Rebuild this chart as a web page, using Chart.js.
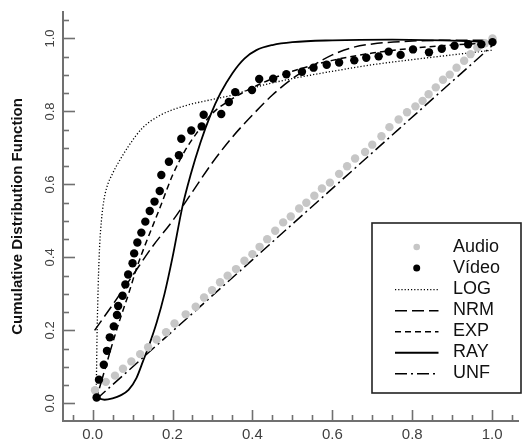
<!DOCTYPE html>
<html>
<head>
<meta charset="utf-8">
<script src="https://cdn.jsdelivr.net/npm/chart.js@4/dist/chart.umd.min.js"></script>
<style>
  html, body { margin: 0; padding: 0; background: #ffffff; }
  #c { display: block; }
</style>
</head>
<body>
<canvas id="c" width="523" height="445"></canvas>
<script>
// ---------- data ----------
const audioX = [0.006,0.033,0.056,0.076,0.097,0.119,0.139,0.160,0.184,0.205,0.233,0.258,0.279,0.299,0.319,0.338,0.359,0.380,0.400,0.418,0.437,0.457,0.477,0.496,0.517,0.535,0.555,0.574,0.594,0.617,0.637,0.657,0.682,0.700,0.723,0.743,0.766,0.787,0.808,0.826,0.841,0.859,0.877,0.894,0.911,0.930,0.946,0.963,0.982,1.001];
const audioY = [0.036,0.059,0.076,0.095,0.115,0.135,0.154,0.175,0.195,0.219,0.244,0.265,0.290,0.310,0.332,0.350,0.368,0.391,0.409,0.429,0.450,0.473,0.496,0.512,0.534,0.550,0.569,0.589,0.605,0.629,0.650,0.671,0.689,0.709,0.732,0.757,0.778,0.798,0.814,0.829,0.847,0.866,0.887,0.901,0.920,0.939,0.957,0.975,0.987,1.000];

const videoX = [0.010,0.016,0.028,0.036,0.043,0.053,0.061,0.064,0.075,0.082,0.089,0.100,0.104,0.112,0.122,0.132,0.143,0.155,0.168,0.172,0.191,0.216,0.222,0.247,0.273,0.278,0.322,0.341,0.357,0.399,0.417,0.452,0.485,0.524,0.553,0.586,0.617,0.655,0.685,0.716,0.741,0.771,0.802,0.842,0.874,0.906,0.940,0.973,1.001];
const videoY = [0.016,0.065,0.106,0.144,0.181,0.211,0.242,0.267,0.295,0.326,0.353,0.384,0.411,0.441,0.468,0.498,0.527,0.553,0.582,0.626,0.662,0.680,0.725,0.748,0.759,0.791,0.793,0.826,0.853,0.859,0.889,0.890,0.902,0.909,0.920,0.928,0.934,0.940,0.947,0.951,0.964,0.955,0.970,0.962,0.972,0.980,0.984,0.984,0.990];

const logX = [0.007,0.009,0.010,0.011,0.013,0.015,0.018,0.022,0.028,0.035,0.050,0.070,0.090,0.125,0.170,0.230,0.300,0.350,0.420,0.500,0.600,0.700,0.800,0.900,1.000];
const logY = [0.025,0.040,0.100,0.180,0.280,0.360,0.440,0.500,0.555,0.590,0.630,0.670,0.705,0.755,0.790,0.815,0.833,0.845,0.870,0.890,0.910,0.928,0.942,0.955,0.968];

const nrmX = [0.005,0.050,0.100,0.150,0.200,0.250,0.300,0.350,0.400,0.450,0.500,0.550,0.600,0.650,0.700,0.800,0.900,1.000];
const nrmY = [0.200,0.270,0.350,0.430,0.500,0.580,0.660,0.730,0.790,0.845,0.890,0.925,0.955,0.975,0.985,0.993,0.995,0.995];

const expX = [0.010,0.030,0.050,0.070,0.090,0.110,0.130,0.150,0.170,0.200,0.230,0.260,0.300,0.350,0.400,0.450,0.500,0.600,0.700,0.800,0.900,1.000];
const expY = [0.015,0.090,0.165,0.235,0.300,0.370,0.430,0.485,0.540,0.625,0.690,0.740,0.795,0.835,0.865,0.890,0.910,0.940,0.960,0.973,0.982,0.988];

const rayX = [0.010,0.030,0.050,0.070,0.090,0.110,0.126,0.140,0.160,0.180,0.200,0.225,0.245,0.270,0.295,0.320,0.350,0.380,0.410,0.450,0.500,0.600,0.750,0.900,1.000];
const rayY = [0.015,0.010,0.014,0.022,0.037,0.070,0.115,0.155,0.220,0.300,0.400,0.540,0.625,0.715,0.790,0.850,0.905,0.945,0.968,0.982,0.990,0.995,0.997,0.994,0.990];

const unfX = [0.010,1.000];
const unfY = [0.012,0.980];

const seriesLabels = ['Audio','Vídeo','LOG','NRM','EXP','RAY','UNF'];
const yTickLabels = [0.0,0.2,0.4,0.6,0.8,1.0];
const xTickLabels = [0.0,0.2,0.4,0.6,0.8,1.0];
const minorTicks = [-0.05,0.05,0.1,0.15,0.25,0.3,0.35,0.45,0.5,0.55,0.65,0.7,0.75,0.85,0.9,0.95,1.05];
const yAxisTitle = 'Cumulative Distribution Function';

// ---------- build ----------
const pts = (xs, ys) => xs.map((x, i) => ({x: x, y: ys[i]}));
const AXIS = '#707070';
const FONT = "'Liberation Sans', Arial, sans-serif";

const lineDs = (label, xs, ys, dash, width, order) => ({
  label, data: pts(xs, ys), showLine: true, pointRadius: 0, borderColor: '#000',
  backgroundColor: '#000', borderWidth: width, borderDash: dash,
  cubicInterpolationMode: 'monotone', fill: false, order
});

const datasets = [
  { label: seriesLabels[0], data: pts(audioX, audioY), pointRadius: 4.2, pointBackgroundColor: '#c6c6c6',
    pointBorderWidth: 0, borderColor: '#c6c6c6', backgroundColor: '#c6c6c6', showLine: false, order: 1, legendRadius: 3.3 },
  { label: seriesLabels[1], data: pts(videoX, videoY), pointRadius: 4.2, pointBackgroundColor: '#000',
    pointBorderWidth: 0, borderColor: '#000', backgroundColor: '#000', showLine: false, order: 0, legendRadius: 3.5 },
  lineDs(seriesLabels[2], logX, logY, [1.2, 2], 1.3, 2),
  lineDs(seriesLabels[3], nrmX, nrmY, [12, 5], 1.5, 3),
  lineDs(seriesLabels[4], expX, expY, [6, 4], 1.5, 4),
  lineDs(seriesLabels[5], rayX, rayY, [], 1.8, 5),
  lineDs(seriesLabels[6], unfX, unfY, [12, 4, 2, 4], 1.5, 6)
];

const tickMarks = {
  id: 'tickMarks',
  afterDraw(chart) {
    const {ctx, chartArea: a, scales: {x, y}} = chart;
    ctx.save();
    ctx.strokeStyle = AXIS;
    ctx.lineWidth = 1.6;
    const drawX = (v, len) => {
      const px = Math.round(x.getPixelForValue(v)) + 0.5;
      ctx.beginPath(); ctx.moveTo(px, a.bottom); ctx.lineTo(px, a.bottom - len); ctx.stroke();
    };
    const drawY = (v, len) => {
      const py = Math.round(y.getPixelForValue(v)) + 0.5;
      if (py < a.top || py > a.bottom) return;
      ctx.beginPath(); ctx.moveTo(a.left, py); ctx.lineTo(a.left + len, py); ctx.stroke();
    };
    xTickLabels.forEach(v => drawX(v, 11));
    minorTicks.forEach(v => drawX(v, 6));
    yTickLabels.forEach(v => drawY(v, 12));
    minorTicks.forEach(v => drawY(v, 6));
    ctx.restore();
  }
};

const boxLegend = {
  id: 'boxLegend',
  afterDraw(chart) {
    const ctx = chart.ctx;
    const L = 372, T = 223, R = 521, B = 393;
    ctx.save();
    ctx.fillStyle = '#fff';
    ctx.fillRect(L, T, R - L, B - T);
    ctx.strokeStyle = '#222';
    ctx.lineWidth = 1.6;
    ctx.strokeRect(L, T, R - L, B - T);
    ctx.font = '18px ' + FONT;
    ctx.textBaseline = 'middle';
    ctx.textAlign = 'left';
    chart.data.datasets.forEach((ds, i) => {
      const cy = 247 + i * 21.05;
      if (!ds.showLine) {
        ctx.fillStyle = ds.pointBackgroundColor;
        ctx.beginPath(); ctx.arc(416.7, cy, ds.legendRadius, 0, Math.PI * 2); ctx.fill();
      } else {
        ctx.strokeStyle = ds.borderColor;
        ctx.lineWidth = ds.borderWidth;
        ctx.setLineDash(ds.borderDash);
        ctx.beginPath(); ctx.moveTo(395, cy + 0.5); ctx.lineTo(438.5, cy + 0.5); ctx.stroke();
        ctx.setLineDash([]);
      }
      ctx.fillStyle = '#111';
      ctx.fillText(ds.label, 453, cy);
    });
    ctx.restore();
  }
};

new Chart(document.getElementById('c'), {
  type: 'scatter',
  data: { datasets },
  options: {
    responsive: false,
    animation: false,
    devicePixelRatio: 1,
    layout: { padding: { top: 10, right: 2.5, left: 0, bottom: 0 } },
    plugins: { legend: { display: false }, tooltip: { enabled: false } },
    scales: {
      x: {
        type: 'linear', position: 'bottom', min: -0.0741, max: 1.0668,
        afterFit: s => { s.height = 24; },
        afterBuildTicks: s => { s.ticks = xTickLabels.map(v => ({value: v})); },
        ticks: { callback: v => Number(v).toFixed(1), font: { family: FONT, size: 15 }, color: '#404040', padding: 5, autoSkip: false, maxRotation: 0 },
        grid: { display: false, drawTicks: false },
        border: { display: true, color: AXIS, width: 2 }
      },
      y: {
        type: 'linear', position: 'left', min: -0.0483, max: 1.0731,
        afterFit: s => { s.width = 63; },
        afterBuildTicks: s => { s.ticks = yTickLabels.map(v => ({value: v})); },
        ticks: { callback: v => Number(v).toFixed(1), font: { family: FONT, size: 13 }, color: '#404040', padding: 4,
                 minRotation: 90, maxRotation: 90, crossAlign: 'center', autoSkip: false },
        grid: { display: false, drawTicks: false },
        border: { display: true, color: AXIS, width: 2 },
        title: { display: true, text: yAxisTitle, font: { family: FONT, size: 15, weight: 'bold' }, color: '#111', padding: { top: 9, bottom: 0 } }
      }
    }
  },
  plugins: [tickMarks, boxLegend]
});
</script>
</body>
</html>
